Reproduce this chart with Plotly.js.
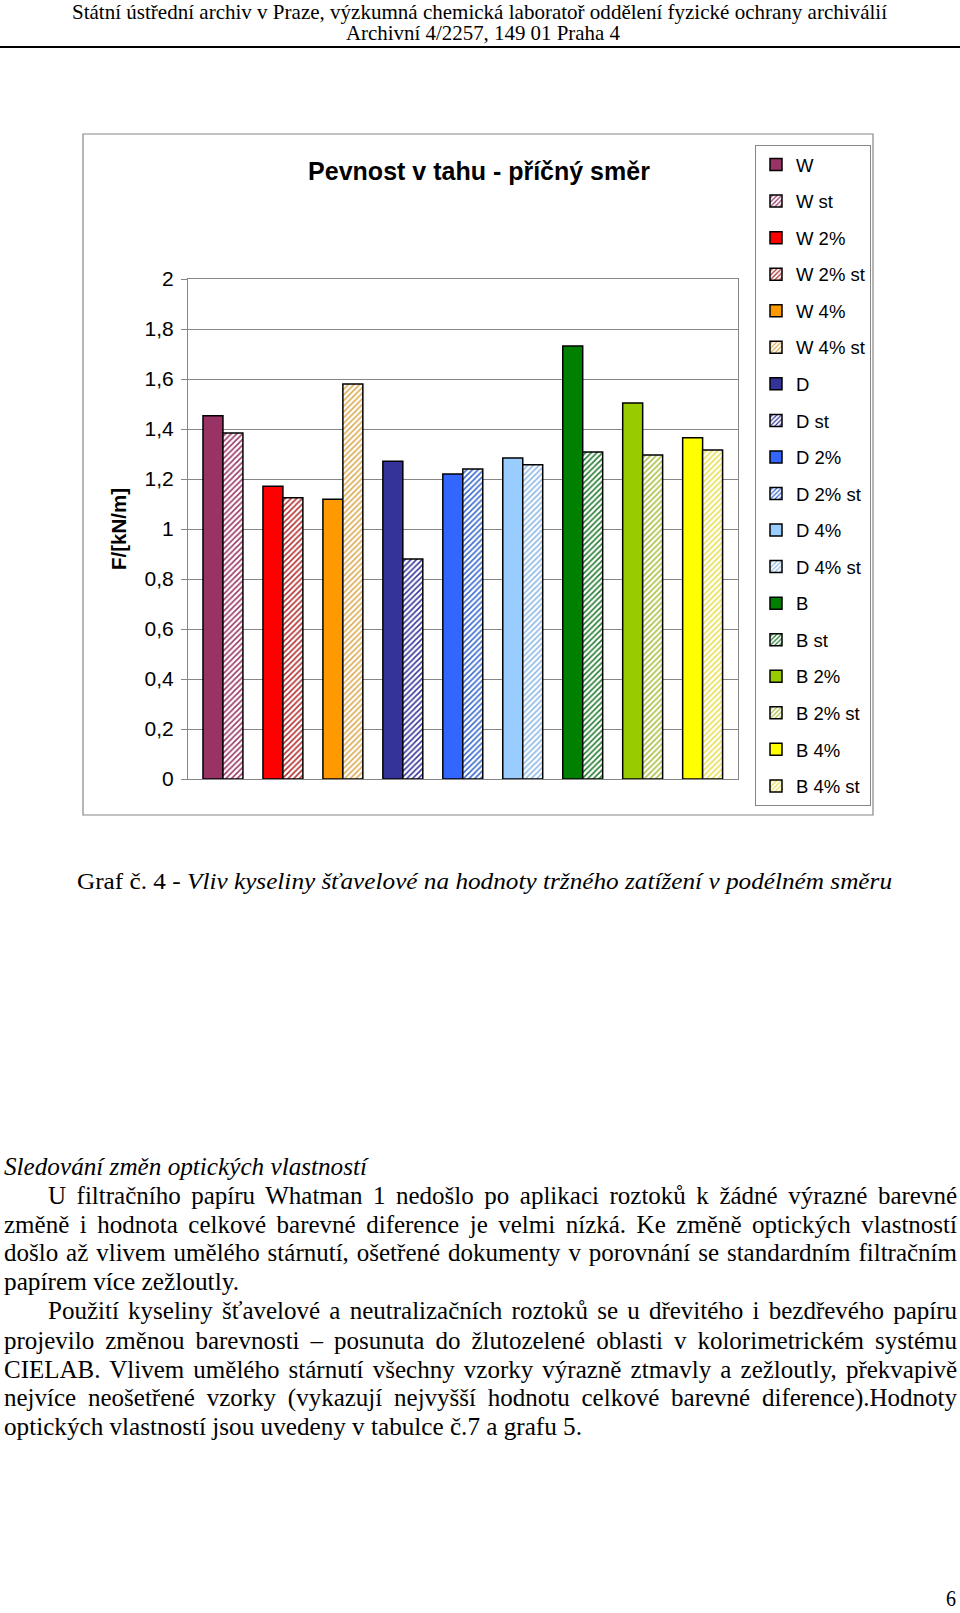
<!DOCTYPE html>
<html>
<head>
<meta charset="utf-8">
<script src="https://cdn.plot.ly/plotly-3.0.1.min.js"></script>
<style>
  html, body { margin:0; padding:0; background:#fff; }
  #page { position:relative; width:960px; height:1613px; overflow:hidden; }
  #chart { position:absolute; left:0; top:0; width:960px; height:1613px; }
  .ln { position:absolute; white-space:nowrap; font-family:"Liberation Serif","Times New Roman",serif; line-height:1; color:#000; transform-origin:0 50%; display:inline-block; }
  #rule { position:absolute; left:0; top:46px; width:960px; height:2px; background:#000; }
</style>
</head>
<body>
<div id="page">
  <div id="chart"></div>
  <div id="rule"></div>
</div>
<script>
// ---- chart data ----
const groups = ['W', 'W 2%', 'W 4%', 'D', 'D 2%', 'D 4%', 'B', 'B 2%', 'B 4%'];
const freshValues = [1.453, 1.171, 1.119, 1.271, 1.220, 1.284, 1.732, 1.504, 1.365];
const agedValues  = [1.384, 1.125, 1.580, 0.880, 1.240, 1.257, 1.308, 1.296, 1.316];
const agedSuffix = ' st';
const yTickVals = [0, 0.2, 0.4, 0.6, 0.8, 1, 1.2, 1.4, 1.6, 1.8, 2];
const yTickText = ['0', '0,2', '0,4', '0,6', '0,8', '1', '1,2', '1,4', '1,6', '1,8', '2'];
const chartTitle = 'Pevnost v tahu - příčný směr';
const yTitle = 'F/[kN/m]';

// ---- styles ----
const solidColors = ['#993366', '#FF0000', '#FF9900', '#333399', '#3366FF', '#99CCFF', '#008000', '#99CC00', '#FFFF00'];
const hatchColors = ['#993366', '#B02A2A', '#DDAA50', '#333399', '#3366CC', '#8DB8E6', '#1F7A2A', '#A8C040', '#E8E050'];

const traces = [];
groups.forEach((g, i) => {
  traces.push({
    type: 'bar', x: [g], y: [freshValues[i]], name: g,
    offsetgroup: 'fresh', legendgroup: 'f' + i,
    marker: { color: solidColors[i], line: { color: '#000', width: 1.5 } },
    hoverinfo: 'skip'
  });
  traces.push({
    type: 'bar', x: [g], y: [agedValues[i]], name: g + agedSuffix,
    offsetgroup: 'aged', legendgroup: 'a' + i,
    marker: { color: '#fff', line: { color: '#000', width: 1.5 },
      pattern: { shape: '/', fgcolor: hatchColors[i], bgcolor: '#fff', size: 4, solidity: 0.38, fillmode: 'replace' } },
    hoverinfo: 'skip'
  });
});

const L = 188, R = 738, T = 279, B = 779, W = 960, H = 1613;
const px2x = p => (p - L) / (R - L);
const px2y = p => (B - p) / (B - T);

const layout = {
  width: W, height: H,
  margin: { l: L, r: W - R, t: T, b: H - B, pad: 0 },
  paper_bgcolor: 'rgba(0,0,0,0)', plot_bgcolor: '#fff',
  font: { family: 'Liberation Sans, Arial, sans-serif', color: '#000' },
  title: { text: '<b>' + chartTitle + '</b>', font: { size: 25, color: '#000' },
    xref: 'container', x: 479 / W, xanchor: 'center', yref: 'container', y: 1 - 171 / H, yanchor: 'middle' },
  barmode: 'group', bargap: 0.334, bargroupgap: 0,
  showlegend: true,
  legend: { x: px2x(755), xanchor: 'left', y: px2y(145), yanchor: 'top',
    bordercolor: '#868686', borderwidth: 1, bgcolor: '#fff',
    font: { size: 18.5, color: '#000' }, traceorder: 'grouped', tracegroupgap: 9.5 },
  xaxis: { type: 'category', range: [-0.583, 8.59], showticklabels: false, ticks: '',
    showgrid: false, zeroline: false, showline: true, mirror: true, linecolor: '#868686', linewidth: 1, fixedrange: true },
  yaxis: { range: [0, 2], tickmode: 'array', tickvals: yTickVals, ticktext: yTickText,
    ticks: 'outside', ticklen: 6, tickcolor: '#868686', tickwidth: 1, ticklabelstandoff: 3,
    tickfont: { size: 21, color: '#000' },
    showgrid: true, gridcolor: '#868686', gridwidth: 1, zeroline: false,
    showline: true, mirror: true, linecolor: '#868686', linewidth: 1, fixedrange: true,
    title: { text: '<b>' + yTitle + '</b>', font: { size: 20.5, color: '#000' }, standoff: 12 } },
  shapes: [
    { type: 'rect', xref: 'paper', yref: 'paper', x0: px2x(83), x1: px2x(873), y0: px2y(815), y1: px2y(134),
      line: { color: '#868686', width: 1.2 }, fillcolor: 'rgba(0,0,0,0)', layer: 'below' }
  ]
};

Plotly.newPlot('chart', traces, layout, { staticPlot: true, displayModeBar: false });

// ---- page text ----
const pageLines = [
  { t: 'Státní ústřední archiv v Praze, výzkumná chemická laboratoř oddělení fyzické ochrany archiválií', x0: 72, x1: 887, cy: 12.5, fs: 21, mode: 'fit' },
  { t: 'Archivní 4/2257, 149 01 Praha 4', x0: 346, x1: 620, cy: 34, fs: 21, mode: 'fit' },
  { html: 'Graf č. 4 - <i>Vliv kyseliny šťavelové na hodnoty tržného zatížení v podélném směru</i>', x0: 77, x1: 892, cy: 881, fs: 24, mode: 'fit' },
  { html: '<i>Sledování změn optických vlastností</i>', x0: 4, x1: 367, cy: 1167, fs: 25, mode: 'fit' },
  { t: 'U filtračního papíru Whatman 1 nedošlo po aplikaci roztoků k žádné výrazné barevné', x0: 48, x1: 957, cy: 1196, fs: 25, mode: 'just' },
  { t: 'změně i hodnota celkové barevné diference je velmi nízká. Ke změně optických vlastností', x0: 4, x1: 957, cy: 1224.5, fs: 25, mode: 'just' },
  { t: 'došlo až vlivem umělého stárnutí, ošetřené dokumenty v porovnání se standardním filtračním', x0: 4, x1: 957, cy: 1253, fs: 25, mode: 'just' },
  { t: 'papírem více zežloutly.', x0: 4, x1: 239, cy: 1282, fs: 25, mode: 'fit' },
  { t: 'Použití kyseliny šťavelové a neutralizačních roztoků se u dřevitého i bezdřevého papíru', x0: 48, x1: 957, cy: 1311, fs: 25, mode: 'just' },
  { t: 'projevilo změnou barevnosti – posunuta do žlutozelené oblasti v kolorimetrickém systému', x0: 4, x1: 957, cy: 1340.5, fs: 25, mode: 'just' },
  { t: 'CIELAB. Vlivem umělého stárnutí všechny vzorky výrazně ztmavly a zežloutly, překvapivě', x0: 4, x1: 957, cy: 1369.5, fs: 25, mode: 'just' },
  { t: 'nejvíce neošetřené vzorky (vykazují nejvyšší hodnotu celkové barevné diference).Hodnoty', x0: 4, x1: 957, cy: 1398, fs: 25, mode: 'just' },
  { t: 'optických vlastností jsou uvedeny v tabulce č.7 a grafu 5.', x0: 4, x1: 582, cy: 1427, fs: 25, mode: 'fit' },
  { t: '6', x0: 946, x1: 956, cy: 1598, fs: 24, mode: 'fit' }
];
const page = document.getElementById('page');
const els = pageLines.map(d => {
  const el = document.createElement('div');
  el.className = 'ln';
  if (d.html) el.innerHTML = d.html; else el.textContent = d.t;
  el.style.fontSize = d.fs + 'px';
  el.style.left = d.x0 + 'px';
  el.style.top = (d.cy - 0.51 * d.fs) + 'px';
  page.appendChild(el);
  return [el, d];
});
function layoutText() {
  els.forEach(([el, d]) => {
    el.style.wordSpacing = '0px'; el.style.transform = 'none';
    const w = el.getBoundingClientRect().width;
    const target = d.x1 - d.x0;
    if (d.mode === 'just' && w < target) {
      const n = (el.textContent.match(/ /g) || []).length;
      el.style.wordSpacing = ((target - w) / n) + 'px';
    } else {
      el.style.transform = 'scaleX(' + (target / w) + ')';
    }
  });
}
layoutText();
if (document.fonts && document.fonts.ready) document.fonts.ready.then(layoutText);
</script>
</body>
</html>
